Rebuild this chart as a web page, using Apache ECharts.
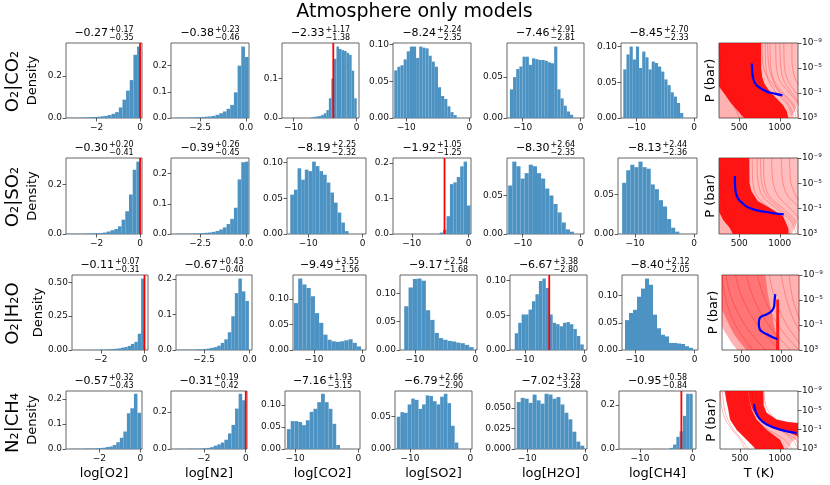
<!DOCTYPE html>
<html>
<head>
<meta charset="utf-8">
<script src="https://cdn.jsdelivr.net/npm/echarts@6/dist/echarts.min.js"></script>
<style>
html, body { margin: 0; padding: 0; background: #fff; }
#chart { width: 830px; height: 485px; }
</style>
</head>
<body>
<div id="chart"></div>
<script>
// ---- data ----
const rowNames = ["O₂|CO₂", "O₂|SO₂", "O₂|H₂O", "N₂|CH₄"];
const species = ["log[O2]", "log[N2]", "log[CO2]", "log[SO2]", "log[H2O]", "log[CH4]"];

const medians = [
  [-0.27, -0.38, -2.33, -8.24, -7.46, -8.45],
  [-0.30, -0.39, -8.19, -1.92, -8.30, -8.13],
  [-0.11, -0.67, -9.49, -9.17, -6.67, -8.40],
  [-0.57, -0.31, -7.16, -6.79, -7.02, -0.95]
];
const errPlus = [
  [0.17, 0.23, 1.17, 2.24, 2.91, 2.70],
  [0.20, 0.26, 2.25, 1.05, 2.64, 2.44],
  [0.07, 0.43, 3.55, 2.54, 3.38, 2.12],
  [0.32, 0.19, 1.93, 2.66, 3.23, 0.58]
];
const errMinus = [
  [0.35, 0.46, 1.38, 2.35, 2.81, 2.33],
  [0.41, 0.45, 2.32, 1.25, 2.35, 2.36],
  [0.31, 0.40, 1.56, 1.68, 2.80, 2.05],
  [0.43, 0.42, 3.15, 2.90, 3.28, 0.84]
];
// true values (red lines), null = none
const truth = [
  [0, null, -3.7, null, null, null],
  [0, null, null, -4.25, null, null],
  [0, null, null, null, -5.9, null],
  [null, 0, null, null, null, -2.15]
];

// histogram bin ranges and bin heights
const binLo = [
  [-3.33, -3.86, -7.2, -11.9, -12.2, -12.3],
  [-3.4, -3.86, -13.3, -5.1, -12.5, -12.2],
  [-3.1, -3.9, -14.1, -11.8, -11.7, -11.7],
  [-3.4, -3.4, -11.3, -12.2, -11.8, -4.35]
];
const binHi = [
  [0.03, 0.14, 0, -2.0, -1.3, -1.87],
  [0, 0.14, -2.6, 0.3, -1.15, -2.5],
  [0, -0.04, -0.33, -0.3, -0.1, -0.28],
  [0.03, 0, -2.9, -2.0, -0.17, 0]
];
const histR1 = [
  [0.001,0.001,0.001,0.002,0.002,0.003,0.004,0.005,0.006,0.008,0.01,0.014,0.02,0.028,0.05,0.087,0.13,0.18,0.30,0.339],
  [0.001,0.001,0.001,0.001,0.002,0.002,0.003,0.004,0.005,0.006,0.008,0.012,0.018,0.025,0.035,0.05,0.098,0.2,0.273,0.233],
  [0.002,0.003,0.004,0.005,0.008,0.012,0.02,0.05,0.1,0.15,0.181,0.175,0.172,0.17,0.165,0.16,0.12,0.05],
  [0.065,0.07,0.072,0.08,0.091,0.0975,0.0975,0.082,0.0975,0.096,0.095,0.085,0.077,0.07,0.042,0.03,0.026,0.016,0.008,0.004],
  [0.035,0.05,0.06,0.063,0.075,0.075,0.065,0.073,0.072,0.071,0.071,0.07,0.068,0.067,0.0874,0.035,0.024,0.015,0.008,0.004],
  [0.068,0.089,0.1,0.082,0.1,0.07,0.093,0.085,0.068,0.079,0.077,0.072,0.065,0.054,0.046,0.036,0.03,0.021,0.007]
];
const histR2 = [
  [0.001,0.001,0.001,0.001,0.001,0.002,0.002,0.003,0.003,0.004,0.006,0.01,0.015,0.02,0.031,0.058,0.092,0.16,0.26,0.293],
  [0.001,0.001,0.001,0.001,0.001,0.002,0.002,0.003,0.004,0.005,0.007,0.01,0.015,0.022,0.033,0.05,0.087,0.181,0.238,0.24],
  [0.055,0.062,0.092,0.076,0.09,0.088,0.1013,0.095,0.088,0.083,0.072,0.058,0.044,0.03,0.016,0.004],
  [0.004,0.012,0.05,0.14,0.145,0.16,0.19,0.2033,0.08],
  [0.063,0.094,0.088,0.072,0.079,0.09,0.088,0.079,0.072,0.059,0.05,0.039,0.028,0.015,0.006,0.003],
  [0.065,0.081,0.088,0.085,0.092,0.085,0.083,0.063,0.057,0.043,0.035,0.019,0.008,0.003]
];
const histR3 = [
  [0.001,0.001,0.001,0.001,0.001,0.002,0.002,0.003,0.004,0.005,0.007,0.009,0.012,0.017,0.022,0.03,0.045,0.06,0.12,0.527],
  [0.001,0.001,0.001,0.001,0.001,0.002,0.002,0.003,0.004,0.006,0.008,0.012,0.02,0.03,0.05,0.095,0.16,0.201,0.165,0.138],
  [0.0916,0.1395,0.128,0.121,0.105,0.072,0.053,0.03,0.02,0.017,0.016,0.017,0.019,0.021,0.014,0.007],
  [0.077,0.11,0.125,0.1257,0.122,0.07,0.053,0.03,0.021,0.018,0.016,0.015,0.013,0.012,0.009,0.005],
  [0.024,0.039,0.051,0.051,0.058,0.07,0.08,0.099,0.1025,0.089,0.051,0.039,0.037,0.034,0.039,0.04,0.037,0.03,0.02,0.008],
  [0.055,0.068,0.074,0.098,0.113,0.1314,0.12,0.065,0.04,0.028,0.025,0.013,0.013,0.012,0.011,0.007,0.004]
];
const histR4 = [
  [0.001,0.001,0.001,0.001,0.002,0.002,0.002,0.003,0.004,0.005,0.008,0.01,0.016,0.027,0.045,0.07,0.143,0.163,0.221,0.145],
  [0.001,0.001,0.001,0.001,0.002,0.002,0.002,0.003,0.004,0.006,0.01,0.018,0.025,0.035,0.05,0.084,0.13,0.218,0.298,0.263],
  [0.045,0.063,0.063,0.061,0.054,0.065,0.084,0.091,0.106,0.125,0.106,0.091,0.057,0.009],
  [0.05,0.057,0.056,0.069,0.078,0.076,0.062,0.069,0.083,0.082,0.074,0.069,0.081,0.0855,0.071,0.036,0.01],
  [0.057,0.062,0.061,0.056,0.066,0.059,0.055,0.067,0.066,0.061,0.063,0.054,0.044,0.036,0.021,0.009,0.004],
  [0.005,0.02,0.055,0.08,0.15,0.25,0.25]
];
const hists = [histR1, histR2, histR3, histR4];

// axis limits and ticks
const xLim = [
  [[-3.41,0.09],[-4.08,0.16],[-11.8,0.36],[-12.1,0.27],[-12.7,0.57],[-12.7,0.52]],
  [[-3.41,0.09],[-4.08,0.16],[-13.9,0.6],[-13.3,0.4],[-12.7,0.57],[-12.9,0.5]],
  [[-3.32,0.16],[-4.04,0.13],[-14.3,0.69],[-12.5,0.28],[-12.5,0.45],[-12.2,0.55]],
  [[-3.62,0.08],[-3.57,0.06],[-11.6,0.26],[-12.5,0.28],[-12.1,0.3],[-14.0,0.63]]
];
const xTickSets = [[-2, 0], [-2.5, 0], [-10, 0]];
const xTickIdx = [[0,1,2,2,2,2],[0,1,2,2,2,2],[0,1,2,2,2,2],[0,0,2,2,2,2]];
const yTicks = [
  [[0,0.2],[0,0.1,0.2],[0,0.1],[0,0.05,0.1],[0,0.05],[0,0.05,0.1]],
  [[0,0.2],[0,0.1,0.2],[0,0.05,0.1],[0,0.1,0.2],[0,0.05],[0,0.05]],
  [[0,0.25,0.5],[0,0.1,0.2],[0,0.05,0.1],[0,0.05,0.1],[0,0.05,0.1],[0,0.05,0.1]],
  [[0,0.1,0.2],[0,0.2],[0,0.05,0.1],[0,0.05],[0,0.025,0.05],[0,0.2]]
];

// P-T panels: log10 P levels, sampled profiles (T in K), blue best fit
const P_LEVELS = [-9, -7, -5, -3, -1, 1, 3];
const ptTicksT = [500, 1000];
const ptTicksP = [-9, -5, -1, 3];

const PT1_CORE = [[250,-9],[770,-9],[772,-5],[785,-3.5],[815,-2.4],[870,-1.4],[950,-0.3],[1040,0.9],[1090,2],[1105,3],[560,3],[470,1.7],[390,0.5],[320,-0.8],[250,-2]];
const PT1_HALO = [[770,-9],[1225,-9],[1225,0.5],[1180,2],[1140,3],[1105,3],[1090,2],[1040,0.9],[950,-0.3],[870,-1.4],[815,-2.4],[785,-3.5],[772,-5]];
const PT1_LOW = [[250,-2],[320,-0.8],[390,0.5],[470,1.7],[560,3],[250,3]];
const PT1_LINES = [
  [820,822,830,860,960,1100,1160],
  [880,882,890,930,1040,1180,1240],
  [950,952,960,1000,1120,1240,1300],
  [1050,1052,1060,1100,1200,1300,1300],
  [1150,1150,1160,1200,1300,1300,1300],
  [780,785,800,880,1020,1160,1200],
  [850,855,870,920,1000,1120,1180],
  [1000,1005,1015,1050,1150,1260,1300],
  [260,262,270,300,380,480,540],
  [250,255,265,285,340,430,500]
];
const BLUE1 = [[654,-5.73],[660,-4.5],[667,-3.63],[690,-2.7],[729,-2.05],[833,-1.26],[938,-0.89],[1033,-0.63]];

const PT2_CORE = [[250,-9],[625,-9],[628,-5],[650,-3.8],[729,-2.2],[896,-1],[1042,0.2],[1104,2.1],[1110,3],[420,3],[380,2],[300,0.8],[250,-0.5]];
const PT2_HALO = [[625,-9],[1225,-9],[1225,0.6],[1180,2],[1150,3],[1110,3],[1104,2.1],[1042,0.2],[896,-1],[729,-2.2],[650,-3.8],[628,-5]];
const PT2_LOW = [[250,-0.5],[300,0.8],[380,2],[420,3],[250,3]];
const PT2_LINES = [
  [660,662,670,720,880,1060,1120],
  [720,722,735,790,960,1140,1200],
  [800,802,815,870,1040,1200,1260],
  [900,905,920,980,1130,1260,1300],
  [1020,1025,1040,1100,1250,1300,1300],
  [1120,1125,1140,1200,1300,1300,1300],
  [760,765,780,840,1000,1170,1230],
  [255,258,265,285,330,400,450]
];
const BLUE2 = [[446,-6.17],[450,-4.2],[467,-3.13],[490,-2.5],[521,-2.07],[625,-1.1],[833,-0.47],[1050,-0.09]];

const PT3_BASE = [[250,-9],[1225,-9],[1225,3],[440,3],[380,2],[330,1],[280,0],[250,-0.8]];
const PT3_DENSE = [[250,-9],[800,-9],[830,-6],[870,-3.5],[910,-1],[940,1],[940,3],[560,3],[460,1.5],[380,0],[310,-1.8],[250,-3.5]];
const PT3_STRIPE = [[938,-5.1],[972,-5.1],[975,3],[935,3]];
const PT3_LINES = [
  [250,270,300,350,420,520,640],
  [300,330,380,450,540,660,800],
  [420,460,520,600,700,830,980],
  [560,600,660,740,840,970,1120],
  [700,740,800,870,960,1080,1225],
  [850,880,930,990,1070,1180,1300],
  [1000,1030,1070,1120,1190,1280,1300],
  [1100,1120,1150,1200,1260,1300,1300]
];
const BLUE3 = [[924,-5.95],[915,-4.8],[911,-4.07],[882,-3.27],[818,-2.73],[733,-2.2],[716,-1.39],[724,-0.43],[818,0.49],[953,1.29]];

const PT4_BASE = [[300,-9],[800,-9],[805,-6],[840,-4.5],[958,-3.1],[1100,-2.6],[1225,-2.4],[1225,0.6],[1150,1.5],[1100,3],[700,3],[583,1.1],[458,-1],[375,-3.1],[340,-6]];
const PT4_LOWER = [[312,-9],[600,-9],[620,-7],[650,-5],[708,-3.1],[833,-1],[1000,1.1],[1042,2.5],[1050,3],[690,3],[667,2.5],[583,1.1],[458,-1],[375,-3.1],[354,-5.25],[330,-7]];
const PT4_UPPER = [[600,-9],[790,-9],[795,-6],[830,-4.5],[958,-3.1],[1100,-2.6],[1225,-2.4],[1225,0.4],[1100,-0.5],[917,-1.2],[800,-2.3],[729,-3.3],[660,-5],[620,-7]];
const PT4_LINES = [
  [280,290,310,350,420,520,600],
  [250,260,280,320,400,500,560],
  [700,710,740,820,1000,1150,1225],
  [760,770,800,900,1150,1250,1300],
  [500,520,560,640,780,950,1050],
  [650,660,690,780,1000,1200,1300],
  [550,570,600,680,850,1050,1150],
  [800,810,850,950,1100,1200,1225]
];
const BLUE4 = [[675,-6.32],[700,-4.55],[750,-3.14],[833,-2.08],[1000,-1.02],[1208,-0.31]];

// ---- layout (pixels) ----
const FONT = "DejaVu Sans";
const BAR = "#4c92c3";
const rowBox = [[43, 75], [158, 76], [275, 75], [391, 58]];
const colBox = [
  [[66,76],[171,78],[282,77],[393,78],[507,77],[621,76],[719,79]],
  [[66,76],[171,78],[287,79],[393,78],[507,77],[618,79],[719,79]],
  [[72,76],[176,76],[293,73],[400,77],[510,77],[622,76],[722,77]],
  [[66,76],[171,76],[285,75],[395,77],[515,72],[619,77],[720,78]]
];
const ptLayers = [
  [[PT1_HALO, 0.26], [PT1_LOW, 0.3], [PT1_CORE, 0.92]],
  [[PT2_HALO, 0.26], [PT2_LOW, 0.3], [PT2_CORE, 0.92]],
  [[PT3_BASE, 0.3], [PT3_DENSE, 0.35], [PT3_STRIPE, 0.85]],
  [[PT4_BASE, 0.25], [PT4_LOWER, 0.88], [PT4_UPPER, 0.88]]
];
const ptLines = [PT1_LINES, PT2_LINES, PT3_LINES, PT4_LINES];
const blues = [BLUE1, BLUE2, BLUE3, BLUE4];

const minus = (v, d) => (v < 0 ? "−" : "") + Math.abs(v).toFixed(d);
const decimals = arr => Math.max(...arr.map(v => {
  const s = String(v); const i = s.indexOf(".");
  return i < 0 ? 0 : s.length - i - 1;
}));
const supMap = { "-": "⁻", "0": "⁰", "1": "¹", "2": "²", "3": "³", "4": "⁴", "5": "⁵", "6": "⁶", "7": "⁷", "8": "⁸", "9": "⁹" };

const measureCtx = document.createElement("canvas").getContext("2d");
function textWidth(t, size) {
  measureCtx.font = size + 'px "' + FONT + '"';
  return measureCtx.measureText(t).width;
}

const grids = [], xAxes = [], yAxes = [], series = [], graphic = [];

function addGrid(r, c) {
  const [l, w] = colBox[r][c];
  const [t, h] = rowBox[r];
  grids.push({
    left: l, top: t, width: w, height: h,
    show: true, borderColor: "#404040", borderWidth: 0.8,
    backgroundColor: "rgba(0,0,0,0)", containLabel: false, outerBoundsMode: "none"
  });
  return grids.length - 1;
}

function axis(gi, min, max, ticks, formatter, extra, labelExtra) {
  return Object.assign({
    gridIndex: gi, type: "value", min: min, max: max,
    splitLine: { show: false },
    // onZero off: ticks must stay on the frame, not jump to value 0
    axisLine: { show: false, onZero: false },
    axisTick: { show: true, customValues: ticks, length: 3.5, lineStyle: { color: "#333", width: 0.8 } },
    axisLabel: Object.assign({
      customValues: ticks, formatter: formatter,
      fontSize: 9, color: "#111", fontFamily: FONT, margin: 5
    }, labelExtra || {})
  }, extra || {});
}

function addText(text, x, y, size, opts) {
  graphic.push(Object.assign({
    type: "text", x: x, y: y, silent: true,
    style: Object.assign({
      text: text, fontSize: size, fontFamily: FONT, fill: "#000",
      align: "center", verticalAlign: "middle"
    }, (opts && opts.style) || {})
  }, (opts && opts.el) || {}));
}

for (let r = 0; r < 4; r++) {
  const [top, hgt] = rowBox[r];

  // ---- histogram panels ----
  for (let c = 0; c < 6; c++) {
    const gi = addGrid(r, c);
    const h = hists[r][c];
    const lo = binLo[r][c];
    const w = (binHi[r][c] - lo) / h.length;
    const ymax = Math.max(...h) * 1.05;
    const xt = xTickSets[xTickIdx[r][c]];
    const xd = decimals(xt);
    const yt = yTicks[r][c];
    const yd = decimals(yt);

    xAxes.push(axis(gi, xLim[r][c][0], xLim[r][c][1], xt, v => minus(v, xd)));
    yAxes.push(axis(gi, 0, ymax, yt, v => minus(v, yd), null, { margin: 4 }));

    series.push({
      type: "custom", xAxisIndex: gi, yAxisIndex: gi, silent: true, clip: true,
      data: h.map((v, i) => [lo + i * w, v, lo + (i + 1) * w]),
      renderItem: (params, api) => {
        const a = api.coord([api.value(0), api.value(1)]);
        const b = api.coord([api.value(2), 0]);
        return { type: "rect", shape: { x: a[0], y: a[1], width: b[0] - a[0], height: b[1] - a[1] }, style: { fill: BAR } };
      }
    });

    if (truth[r][c] !== null) {
      series.push({
        type: "line", xAxisIndex: gi, yAxisIndex: gi, silent: true, symbol: "none",
        data: [[truth[r][c], 0], [truth[r][c], ymax]],
        lineStyle: { color: "#ff0000", width: 1.8 }
      });
    }

    // title: median with stacked +/- errors
    const [l, wd] = colBox[r][c];
    const cx = l + wd / 2;
    const main = minus(medians[r][c], 2);
    const sup = "+" + errPlus[r][c].toFixed(2);
    const sub = "−" + errMinus[r][c].toFixed(2);
    const wMain = textWidth(main, 11);
    const wSide = Math.max(textWidth(sup, 8), textWidth(sub, 8));
    const x0 = cx - (wMain + 1 + wSide) / 2;
    addText(main, x0, top - 9.5, 11, { style: { align: "left" } });
    addText(sup, x0 + wMain + 1, top - 13, 8, { style: { align: "left" } });
    addText(sub, x0 + wMain + 1, top - 5.5, 8, { style: { align: "left" } });

    if (r === 3) addText(species[c], cx, 474, 13);
  }

  // ---- P-T panel ----
  const gi = addGrid(r, 6);
  xAxes.push(axis(gi, 250, 1225, ptTicksT, v => String(v)));
  yAxes.push(axis(gi, -9, 3, ptTicksP,
    v => "10" + String(v).split("").map(ch => supMap[ch]).join(""),
    { position: "right", inverse: true },
    { margin: 4 }));

  const layers = ptLayers[r];
  series.push({
    type: "custom", xAxisIndex: gi, yAxisIndex: gi, silent: true, clip: true,
    data: layers.map(L => [L[0][0][0], L[0][0][1]]),
    renderItem: (params, api) => {
      const L = layers[params.dataIndex];
      return {
        type: "polygon",
        shape: { points: L[0].map(p => api.coord(p)) },
        style: { fill: "rgba(255,0,0," + L[1] + ")" }
      };
    }
  });
  ptLines[r].forEach(prof => {
    series.push({
      type: "line", xAxisIndex: gi, yAxisIndex: gi, silent: true, symbol: "none", smooth: 0.4,
      data: prof.map((t, k) => [t, P_LEVELS[k]]),
      lineStyle: { color: "rgba(255,0,0,0.35)", width: 0.8 }
    });
  });
  series.push({
    type: "line", xAxisIndex: gi, yAxisIndex: gi, silent: true, symbol: "none", smooth: 0.5,
    data: blues[r],
    lineStyle: { color: "#0000ff", width: 2.2 }
  });

  const [pl, pw] = colBox[r][6];
  const cy = top + hgt / 2;
  addText("P (bar)", pl - 8, cy, 13, { el: { rotation: Math.PI / 2 } });
  if (r === 3) addText("T (K)", pl + pw / 2, 474, 13);

  // row labels
  addText(rowNames[r], 13, cy + (r === 3 ? 3 : 1), 18, { el: { rotation: Math.PI / 2 } });
  addText("Density", colBox[r][0][0] - 33, cy, 13, { el: { rotation: Math.PI / 2 } });
}

addText("Atmosphere only models", 414.5, 12, 19);

const chart = echarts.init(document.getElementById("chart"));
chart.setOption({
  animation: false,
  backgroundColor: "#fff",
  textStyle: { fontFamily: FONT },
  grid: grids,
  xAxis: xAxes,
  yAxis: yAxes,
  series: series,
  graphic: graphic
});
</script>
</body>
</html>
